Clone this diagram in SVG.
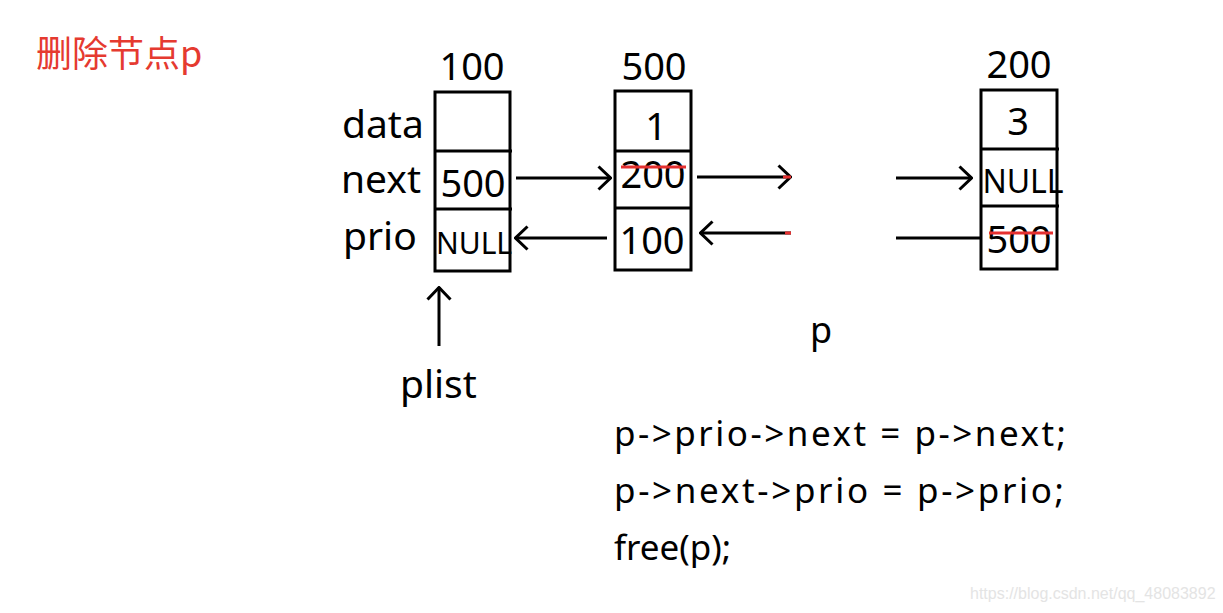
<svg xmlns="http://www.w3.org/2000/svg" width="1223" height="613" viewBox="0 0 1223 613">
<style>
text{font-family:"Noto Sans","Open Sans","Liberation Sans",sans-serif;fill:#000}
.big{font-size:38px}
.lab{font-size:39px}
.nul{font-size:30px}
.code{font-size:35px}
.box{fill:none;stroke:#000;stroke-width:3}
.ln{stroke:#000;stroke-width:3;fill:none}
.red{stroke:#e53030;stroke-width:3;fill:none}
</style>
<defs>
<marker id="ah" viewBox="0 0 15 26" refX="14" refY="13" markerWidth="15" markerHeight="26" markerUnits="userSpaceOnUse" orient="auto">
<path d="M1.5,1.5 L13.5,13 L1.5,24.5" fill="none" stroke="#000" stroke-width="3"/>
</marker>
</defs>
<rect width="1223" height="613" fill="#fff"/>
<text x="36" y="67" style="font-family:'Noto Sans CJK SC','Noto Sans',sans-serif;font-size:36px;fill:#e53a30">删除节点p</text>
<g id="labels">
<text class="lab" x="342" y="138">data</text>
<text class="lab" x="341" y="193">next</text>
<text class="lab" x="343" y="250">prio</text>
</g>
<g id="node100">
<text class="big" x="472" y="80" text-anchor="middle">100</text>
<rect class="box" x="435" y="92" width="75" height="179"/>
<line class="box" x1="435" y1="151" x2="512" y2="151"/>
<line class="box" x1="435" y1="209" x2="512" y2="209"/>
<text class="big" x="473" y="197" text-anchor="middle">500</text>
<text class="nul" x="474" y="254" text-anchor="middle">NULL</text>
</g>
<g id="node500">
<text class="big" x="654" y="80" text-anchor="middle">500</text>
<rect class="box" x="615" y="91" width="76" height="179"/>
<line class="box" x1="615" y1="151" x2="692" y2="151"/>
<line class="box" x1="615" y1="208" x2="692" y2="208"/>
<text class="big" x="656" y="140" text-anchor="middle">1</text>
<text class="big" x="653" y="188" text-anchor="middle">200</text>
<line class="red" x1="621" y1="167" x2="686" y2="167"/>
<text class="big" x="652" y="254" text-anchor="middle">100</text>
</g>
<g id="node200">
<text class="big" x="1019" y="78" text-anchor="middle">200</text>
<rect class="box" x="981" y="90" width="76" height="179"/>
<line class="box" x1="981" y1="149" x2="1059" y2="149"/>
<line class="box" x1="981" y1="206" x2="1059" y2="206"/>
<text class="big" x="1018" y="135" text-anchor="middle">3</text>
<text class="nul" x="1023" y="193" text-anchor="middle" style="font-size:32px">NULL</text>
<text class="big" x="1019" y="253" text-anchor="middle">500</text>
<line class="red" x1="989" y1="233" x2="1053" y2="233"/>
</g>
<g id="connectors">
<line class="ln" x1="516" y1="178" x2="611" y2="178" marker-end="url(#ah)"/>
<line class="ln" x1="607" y1="238" x2="515" y2="238" marker-end="url(#ah)"/>
<line class="ln" x1="697" y1="177" x2="791" y2="177" marker-end="url(#ah)"/>
<line class="red" x1="783" y1="177" x2="791" y2="177"/>
<line class="ln" x1="791" y1="233" x2="700" y2="233" marker-end="url(#ah)"/>
<line class="red" x1="785" y1="233" x2="791" y2="233"/>
<line class="ln" x1="896" y1="178" x2="972" y2="178" marker-end="url(#ah)"/>
<line class="ln" x1="896" y1="238" x2="980" y2="238"/>
<line class="ln" x1="439" y1="346" x2="439" y2="287" marker-end="url(#ah)"/>
</g>
<g id="pointers">
<text class="lab" x="400" y="398">plist</text>
<text class="lab" x="810" y="343" style="font-size:36px">p</text>
</g>
<g id="code">
<text class="code" x="614" y="446" textLength="452" lengthAdjust="spacing">p-&gt;prio-&gt;next = p-&gt;next;</text>
<text class="code" x="614" y="503" textLength="450" lengthAdjust="spacing">p-&gt;next-&gt;prio = p-&gt;prio;</text>
<text class="code" x="614" y="560">free(p);</text>
</g>
<text x="970" y="599" style="font-family:'Liberation Sans',sans-serif;font-size:16px;fill:#e4e4e4">https://blog.csdn.net/qq_48083892</text>
</svg>
